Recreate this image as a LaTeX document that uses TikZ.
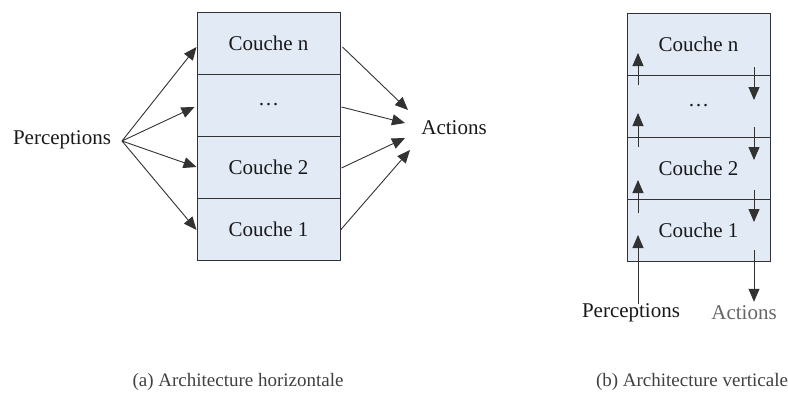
\documentclass[tikz,border=0pt]{standalone}
\usepackage{fontspec}
\setmainfont{Liberation Serif}
\usetikzlibrary{arrows.meta,calc}
\definecolor{layerfill}{RGB}{226,234,245}
\definecolor{ink}{RGB}{50,50,50}
\begin{document}
\begin{tikzpicture}[x=1pt,y=-1pt,
  layer/.style={draw=ink, fill=layerfill, line width=1pt,
    minimum width=143pt, minimum height=62pt, inner sep=0pt,
    text=black!90, font=\fontsize{21}{24}\selectfont},
  lbl/.style={inner sep=0pt, text=black!90, font=\fontsize{21}{24}\selectfont},
  captext/.style={inner sep=0pt, text=black!75, font=\fontsize{19}{21}\selectfont},
  arr/.style={draw=ink, line width=0.9pt, -{Triangle[length=13pt,width=11pt]}}]
\useasboundingbox (0,0) rectangle (788,405);

% (a) horizontal layering
\node[layer] (Ln) at (268.5,43)  {Couche n};
\node[layer] (Ld) at (268.5,105) {\ldots};
\node[layer] (L2) at (268.5,167) {Couche 2};
\node[layer] (L1) at (268.5,229) {Couche 1};

\node[lbl] (PL) at (62,140) {Perceptions};
\node[lbl] (AL) at (454,128) {Actions};
\coordinate (fan) at (122,141);
\coordinate (a1) at (408,110);
\coordinate (a2) at (405,123);
\coordinate (a3) at (405,138);
\coordinate (a4) at (410,150);

\draw[arr] (fan) -- ($(Ln.west)+(0,4)$);
\draw[arr] (fan) -- ($(Ld.west)+(-2,2)$);
\draw[arr] (fan) -- (L2.west);
\draw[arr] (fan) -- ($(L1.west)+(0,1)$);

\draw[arr] ($(Ln.east)+(2,4)$) -- (a1);
\draw[arr] ($(Ld.east)+(1,2)$) -- (a2);
\draw[arr] ($(L2.east)+(1,1)$) -- (a3);
\draw[arr] ($(L1.east)+(0,1)$) -- (a4);

% (b) vertical layering
\node[layer] (Rn) at (698.5,44)  {Couche n};
\node[layer] (Rd) at (698.5,106) {\ldots};
\node[layer] (R2) at (698.5,168) {Couche 2};
\node[layer] (R1) at (698.5,230) {Couche 1};

\node[lbl] (PR) at (631,313) {Perceptions};
\node[lbl, text=black!60] (AR) at (744,313) {Actions};

% upward flow along the left side
\coordinate (u1s) at (638,85);  \coordinate (u1e) at (638,53);
\coordinate (u2s) at (638,147); \coordinate (u2e) at (638,113);
\coordinate (u3s) at (638,213); \coordinate (u3e) at (638,180);
\coordinate (u4e) at (638,235);
\draw[arr] (u1s) -- (u1e);
\draw[arr] (u2s) -- (u2e);
\draw[arr] (u3s) -- (u3e);
\draw[arr] (PR.north -| u4e) -- (u4e);

% downward flow along the right side
\coordinate (d1s) at (754,67);  \coordinate (d1e) at (754,100);
\coordinate (d2s) at (754,127); \coordinate (d2e) at (754,160);
\coordinate (d3s) at (754,190); \coordinate (d3e) at (754,222);
\coordinate (d4s) at (754,250);
\draw[arr] (d1s) -- (d1e);
\draw[arr] (d2s) -- (d2e);
\draw[arr] (d3s) -- (d3e);
\draw[arr] (d4s) -- ($(AR.north -| d4s)+(0,-4)$);

% captions
\node[captext] (capA) at (238,382) {(a) Architecture horizontale};
\node[captext] (capB) at (692,382) {(b) Architecture verticale};
\end{tikzpicture}
\end{document}
